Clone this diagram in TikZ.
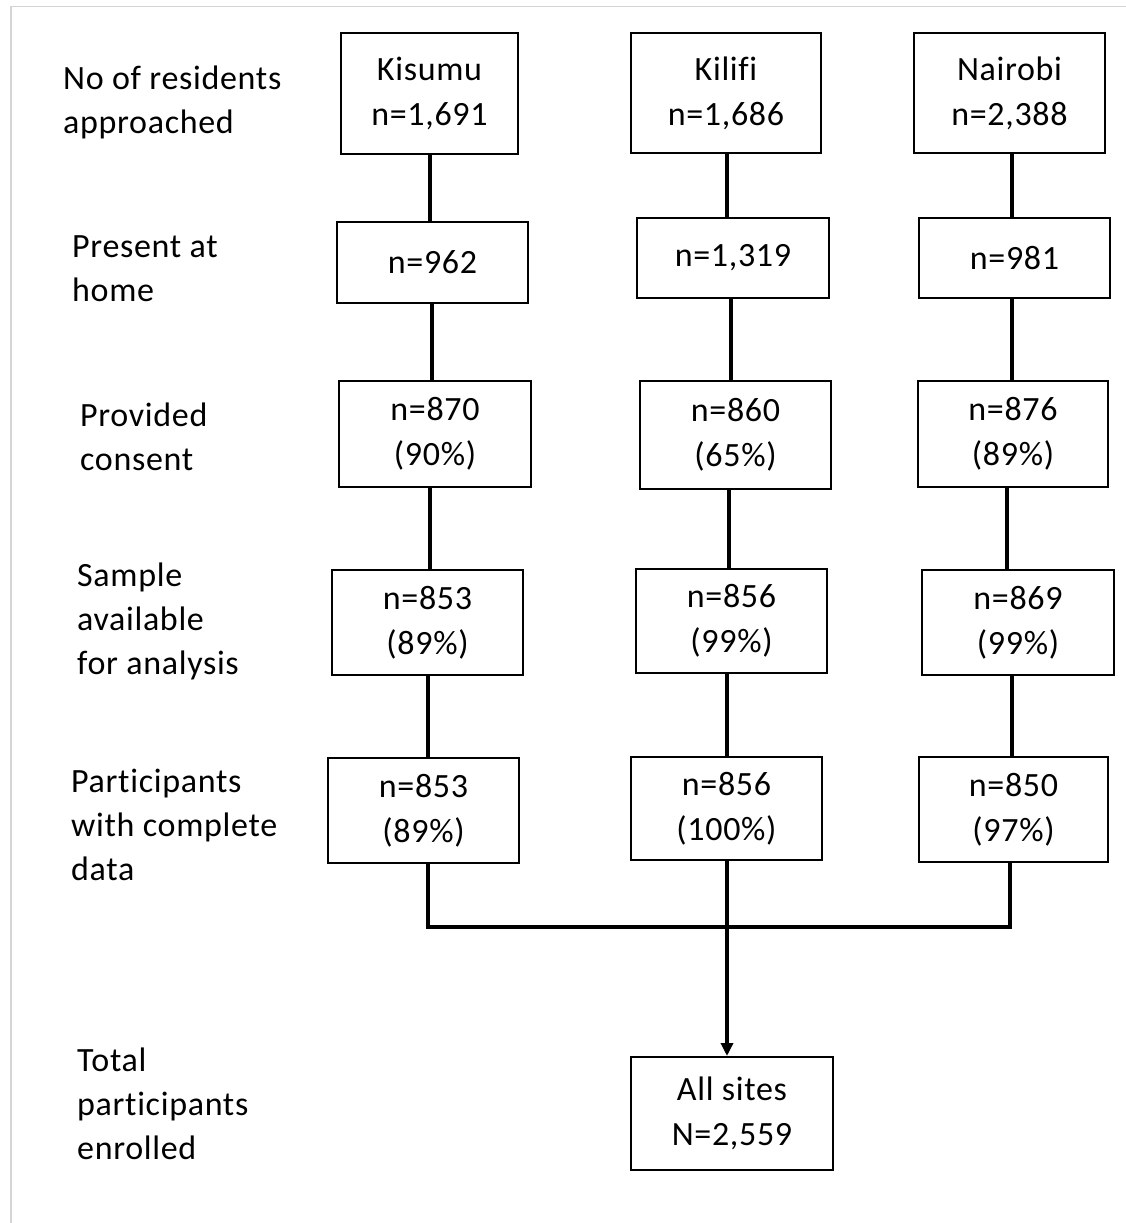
\documentclass[tikz,border=0pt]{standalone}
\usepackage{fontspec}
\setmainfont[LetterSpace=2,Ligatures=CommonOff]{Carlito}
\usetikzlibrary{arrows.meta}
\definecolor{framegray}{HTML}{D4D4D4}
\tikzset{
  box/.style={draw, line width=2pt, inner sep=0pt, align=center,
    font=\fontsize{34}{45}\selectfont},
  lbl/.style={anchor=base west, inner sep=0pt, align=left,
    font=\fontsize{34}{44}\selectfont},
  conn/.style={line width=3.3pt},
  frame/.style={draw=framegray, line width=1.3pt}
}
\begin{document}
\begin{tikzpicture}[x=1pt,y=-1pt]
\useasboundingbox (0,0) rectangle (1126,1223);
\draw[frame] (11,1223) -- (11,6.5) -- (1126,6.5);

% left labels (anchored at the baseline of their last line)
\node[lbl] (l1) at (63,133) {No of residents\\approached};
\node[lbl] (l2) at (72,301) {Present at\\home};
\node[lbl] (l3) at (80,470) {Provided\\consent};
\node[lbl] (l4) at (77,674) {Sample\\available\\for analysis};
\node[lbl] (l5) at (71,880) {Participants\\with complete\\data};
\node[lbl] (l6) at (77,1159) {Total\\participants\\enrolled};

% row 1
\node[box, minimum width=177pt, minimum height=121pt] (k1) at (429.5,93.5) {Kisumu\\n=1,691};
\node[box, minimum width=190pt, minimum height=120pt] (i1) at (726,93) {Kilifi\\n=1,686};
\node[box, minimum width=191pt, minimum height=120pt] (n1) at (1009.5,93) {Nairobi\\n=2,388};
% row 2
\node[box, minimum width=191pt, minimum height=81pt] (k2) at (432.5,262.5) {n=962};
\node[box, minimum width=192pt, minimum height=80pt] (i2) at (733,258) {n=1,319};
\node[box, minimum width=191pt, minimum height=80pt] (n2) at (1014.5,258) {n=981};
% row 3
\node[box, minimum width=192pt, minimum height=106pt] (k3) at (435,434) {n=870\\(90\%)};
\node[box, minimum width=191pt, minimum height=108pt] (i3) at (735.5,435) {n=860\\(65\%)};
\node[box, minimum width=190pt, minimum height=106pt] (n3) at (1013,434) {n=876\\(89\%)};
% row 4
\node[box, minimum width=191pt, minimum height=105pt] (k4) at (427.5,622.5) {n=853\\(89\%)};
\node[box, minimum width=191pt, minimum height=104pt] (i4) at (731.5,621) {n=856\\(99\%)};
\node[box, minimum width=192pt, minimum height=105pt] (n4) at (1018,622.5) {n=869\\(99\%)};
% row 5
\node[box, minimum width=191pt, minimum height=105pt] (k5) at (423.5,810.5) {n=853\\(89\%)};
\node[box, minimum width=191pt, minimum height=103pt] (i5) at (726.5,808.5) {n=856\\(100\%)};
\node[box, minimum width=189pt, minimum height=105pt] (n5) at (1013.5,809.5) {n=850\\(97\%)};
% total
\node[box, minimum width=202pt, minimum height=113pt] (all) at (732,1113.5) {All sites\\N=2,559};

% connector columns
\coordinate (xk12) at (430,0);
\coordinate (xk23) at (432,0);
\coordinate (xk34) at (430,0);
\coordinate (xk45) at (428,0);
\coordinate (xk5)  at (428,0);
\coordinate (xi12) at (727,0);
\coordinate (xi23) at (731,0);
\coordinate (xi34) at (729,0);
\coordinate (xi45) at (727,0);
\coordinate (xi5)  at (727,0);
\coordinate (xn12) at (1012,0);
\coordinate (xn23) at (1012,0);
\coordinate (xn34) at (1007,0);
\coordinate (xn45) at (1012,0);
\coordinate (xn5)  at (1010,0);
\coordinate (mrg)  at (727,927);

\draw[conn] (k1.south -| xk12) -- (k2.north -| xk12);
\draw[conn] (k2.south -| xk23) -- (k3.north -| xk23);
\draw[conn] (k3.south -| xk34) -- (k4.north -| xk34);
\draw[conn] (k4.south -| xk45) -- (k5.north -| xk45);

\draw[conn] (i1.south -| xi12) -- (i2.north -| xi12);
\draw[conn] (i2.south -| xi23) -- (i3.north -| xi23);
\draw[conn] (i3.south -| xi34) -- (i4.north -| xi34);
\draw[conn] (i4.south -| xi45) -- (i5.north -| xi45);

\draw[conn] (n1.south -| xn12) -- (n2.north -| xn12);
\draw[conn] (n2.south -| xn23) -- (n3.north -| xn23);
\draw[conn] (n3.south -| xn34) -- (n4.north -| xn34);
\draw[conn] (n4.south -| xn45) -- (n5.north -| xn45);

\draw[conn] (k5.south -| xk5) |- (mrg) -| (n5.south -| xn5);
\draw[conn, -{Triangle[width=12pt,length=13pt]}] (i5.south -| xi5) -- (all.north -| xi5);
\end{tikzpicture}
\end{document}
